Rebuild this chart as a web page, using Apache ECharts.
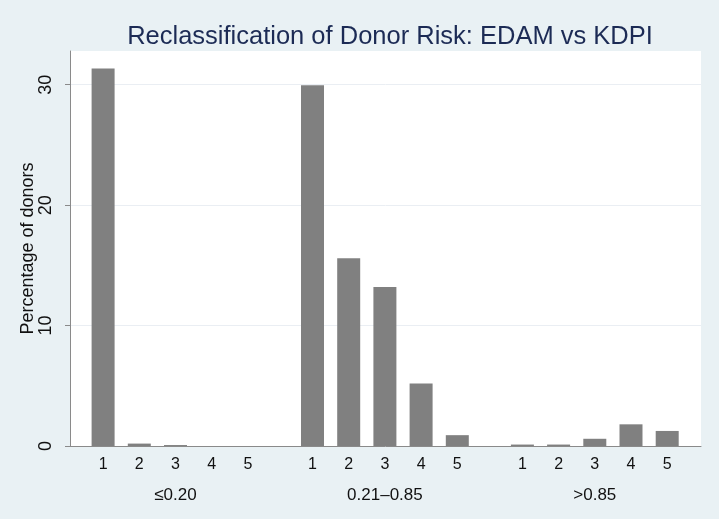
<!DOCTYPE html>
<html>
<head>
<meta charset="utf-8">
<script src="https://cdn.jsdelivr.net/npm/echarts@6/dist/echarts.min.js"></script>
<style>
  html, body { margin: 0; padding: 0; background: #e9f1f4; }
  #chart { width: 719px; height: 519px; }
</style>
</head>
<body>
<div id="chart"></div>
<script>
// KDPI groups and EDAM categories
var groups = ['≤0.20', '0.21–0.85', '>0.85'];
var edamCats = ['1', '2', '3', '4', '5'];
// percentage of donors per EDAM category, one list per KDPI group
var lowKdpi = [31.35, 0.2, 0.08, 0, 0];
var midKdpi = [29.95, 15.6, 13.2, 5.2, 0.9];
var highKdpi = [0.12, 0.12, 0.6, 1.8, 1.25];
var yTicks = [0, 10, 20, 30];
var yMax = 32.8;

var groupValues = [lowKdpi, midKdpi, highKdpi];
var groupLeft = [85, 294.4, 504.3];
var font = '"Liberation Sans", Arial, sans-serif';

var dom = document.getElementById('chart');
var myChart = echarts.init(dom, null, { renderer: 'canvas' });

var grids = [{ left: 70, top: 51, width: 631, height: 395, show: true, backgroundColor: '#ffffff', borderWidth: 0 }];
var xAxes = [{
  gridIndex: 0, type: 'value', min: 0, max: 1,
  axisLine: { show: true, lineStyle: { color: '#8a8a8a', width: 1 } },
  axisTick: { show: false }, axisLabel: { show: false }, splitLine: { show: false }
}];
var yAxes = [{
  gridIndex: 0, type: 'value', min: 0, max: yMax,
  name: 'Percentage of donors', nameLocation: 'middle', nameGap: 33, nameMoveOverlap: false,
  nameTextStyle: { fontFamily: font, fontSize: 18, color: '#111' },
  axisLine: { show: true, lineStyle: { color: '#8a8a8a', width: 1 } },
  axisTick: { show: true, length: 5, customValues: yTicks, lineStyle: { color: '#8a8a8a' } },
  axisLabel: { rotate: 90, margin: 15, customValues: yTicks, fontFamily: font, fontSize: 18, color: '#111' },
  splitLine: { show: true, lineStyle: { color: '#eaeef3', width: 1 } }
}];
var series = [];

groupValues.forEach(function (vals, g) {
  var idx = g + 1;
  grids.push({ left: groupLeft[g], top: 51, width: 181, height: 395 });
  xAxes.push({
    gridIndex: idx, type: 'category', data: edamCats,
    name: groups[g], nameLocation: 'middle', nameGap: 41,
    nameTextStyle: { fontFamily: font, fontSize: 17, color: '#111' },
    axisLine: { show: false }, axisTick: { show: false },
    axisLabel: { margin: 11, fontFamily: font, fontSize: 16, color: '#111' }
  });
  yAxes.push({ gridIndex: idx, type: 'value', min: 0, max: yMax, show: false, splitLine: { show: false } });
  series.push({
    type: 'bar', xAxisIndex: idx, yAxisIndex: idx, data: vals,
    barWidth: 23, silent: true,
    itemStyle: { color: '#808080' }
  });
});

var option = {
  backgroundColor: '#e9f1f4',
  animation: false,
  title: {
    text: 'Reclassification of Donor Risk: EDAM vs KDPI',
    left: 385, top: 19, textAlign: 'center',
    textStyle: { fontFamily: font, fontSize: 25.5, fontWeight: 'normal', color: '#1c2b55' }
  },
  grid: grids,
  xAxis: xAxes,
  yAxis: yAxes,
  series: series
};

myChart.setOption(option);
</script>
</body>
</html>
